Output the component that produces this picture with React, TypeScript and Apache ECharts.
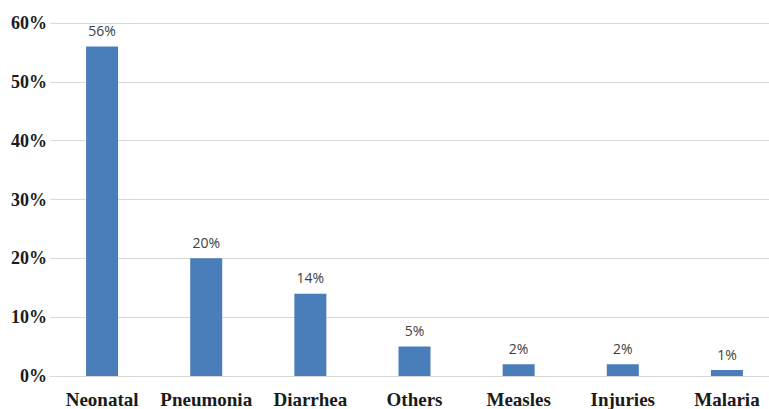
import React, { useEffect, useRef } from "react";
import * as echarts from "echarts";

const categories = ["Neonatal", "Pneumonia", "Diarrhea", "Others", "Measles", "Injuries", "Malaria"];
const values = [56, 20, 14, 5, 2, 2, 1];
const yTicks = { min: 0, max: 60, interval: 10 };

export default function App() {
  const ref = useRef<HTMLDivElement>(null);
  useEffect(() => {
    if (!ref.current) return;
    const chart = echarts.init(ref.current, null, { renderer: "svg" });
    chart.setOption({
      animation: false,
      grid: { left: 50, width: 729, top: 23, bottom: 32, containLabel: false },
      xAxis: {
        type: "category",
        data: categories,
        axisLine: { lineStyle: { color: "#d9d9d9", width: 1 } },
        axisTick: { show: false },
        axisLabel: {
          fontFamily: "Liberation Serif",
          fontWeight: "bold",
          fontSize: 19,
          color: "#1a1a1a",
          margin: 14,
          interval: 0,
        },
      },
      yAxis: {
        type: "value",
        min: yTicks.min,
        max: yTicks.max,
        interval: yTicks.interval,
        axisLine: { show: false },
        axisTick: { show: false },
        splitLine: { lineStyle: { color: "#d9d9d9", width: 1 } },
        axisLabel: {
          formatter: "{value}%",
          fontFamily: "Liberation Serif",
          fontWeight: "bold",
          fontSize: 18,
          color: "#1a1a1a",
          margin: 3,
        },
      },
      series: [
        {
          type: "bar",
          data: values,
          barWidth: 32,
          itemStyle: { color: "#4a7ebb" },
          label: {
            show: true,
            position: "top",
            distance: 9,
            formatter: "{c}%",
            fontFamily: "Open Sans",
            fontSize: 14,
            color: "#404040",
          },
        },
      ],
    });
    return () => chart.dispose();
  }, []);
  return (
    <div style={{ position: "fixed", left: 0, top: 0, width: 769, height: 409, overflow: "hidden", background: "#fff" }}>
      <div ref={ref} style={{ width: 790, height: 409 }} />
    </div>
  );
}
